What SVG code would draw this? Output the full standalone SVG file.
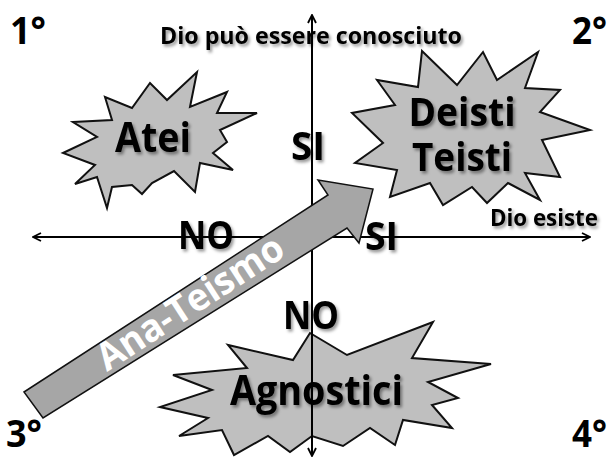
<svg xmlns="http://www.w3.org/2000/svg" width="611" height="459" viewBox="0 0 611 459">
<defs>
<style>
.star{fill:#bfbfbf;stroke:#111;stroke-width:2;stroke-linejoin:miter}
.axis{stroke:#000;stroke-width:2;fill:none}
.t{font-family:'Open Sans','Noto Sans','Liberation Sans',sans-serif;font-weight:bold;fill:#000}
.sh{filter:url(#shadow)}
.arrow{fill:#a6a6a6;stroke:#111;stroke-width:1.5;stroke-linejoin:miter}
</style>
<filter id="shadow" x="-20%" y="-30%" width="140%" height="170%">
<feDropShadow dx="2" dy="2.5" stdDeviation="1.6" flood-color="#000" flood-opacity="0.4"/>
</filter>
<marker id="ah" viewBox="0 0 10 10" refX="9" refY="5" markerWidth="10" markerHeight="10" markerUnits="userSpaceOnUse" orient="auto-start-reverse">
<path d="M1,1 L9,5 L1,9" fill="none" stroke="#000" stroke-width="1.8"/>
</marker>
</defs>
<rect width="611" height="459" fill="#fff"/>

<g id="atei">
<polygon class="star" points="73,122 112,120 105,97 132,108 150,83 167,100 197,72 190,107 227,92 217,113 257,113 220,130 227,142 213,153 233,170 200,163 195,192 174,171 152,183 142,194 132,185 112,187 107,208 97,177 75,184 95,165 63,153 97,137"/>
<text class="t sh" x="115" y="152" font-size="42" textLength="76" lengthAdjust="spacingAndGlyphs">Atei</text>
</g>

<g id="deisti-teisti">
<polygon class="star" points="422,51 457,85 483,52 497,80 538,52 525,88 560,90 540,112 590,130 542,140 560,177 525,173 540,200 508,183 487,203 472,187 443,205 430,183 390,197 397,170 355,163 383,143 352,113 395,105 377,80 418,87"/>
<text class="t sh" x="462" y="126" font-size="39" text-anchor="middle" textLength="107" lengthAdjust="spacingAndGlyphs">Deisti</text>
<text class="t sh" x="462" y="171" font-size="39" text-anchor="middle" textLength="100" lengthAdjust="spacingAndGlyphs">Teisti</text>
</g>

<g id="agnostici">
<polygon class="star" points="310,333 347,355 433,322 412,358 491,364 428,382 458,398 432,405 452,428 403,420 395,445 370,428 343,446 312,436 290,452 268,436 234,455 222,430 179,436 208,418 160,407 212,390 173,375 247,368 228,345 293,360"/>
</g>

<g id="axes">
<line class="axis" x1="33" y1="237" x2="590" y2="237" marker-start="url(#ah)" marker-end="url(#ah)"/>
<line class="axis" x1="312" y1="15" x2="312" y2="456" marker-start="url(#ah)" marker-end="url(#ah)"/>
</g>

<g id="labels">
<text class="t" x="10" y="44" font-size="38" textLength="36" lengthAdjust="spacingAndGlyphs">1°</text>
<text class="t" x="572" y="44" font-size="38" textLength="35" lengthAdjust="spacingAndGlyphs">2°</text>
<text class="t" x="6" y="447" font-size="38" textLength="36" lengthAdjust="spacingAndGlyphs">3°</text>
<text class="t" x="572" y="447" font-size="38" textLength="35" lengthAdjust="spacingAndGlyphs">4°</text>
<text class="t sh" x="311" y="44" font-size="24" text-anchor="middle" textLength="302" lengthAdjust="spacingAndGlyphs">Dio può essere conosciuto</text>
<text class="t sh" x="490" y="226" font-size="24" textLength="108" lengthAdjust="spacingAndGlyphs">Dio esiste</text>
<text class="t sh" x="308" y="160" font-size="40" text-anchor="middle" textLength="34" lengthAdjust="spacingAndGlyphs">SI</text>
<text class="t sh" x="365" y="250" font-size="40" textLength="33" lengthAdjust="spacingAndGlyphs">SI</text>
<text class="t sh" x="178" y="249" font-size="40" textLength="56" lengthAdjust="spacingAndGlyphs">NO</text>
<text class="t sh" x="283" y="329" font-size="40" textLength="56" lengthAdjust="spacingAndGlyphs">NO</text>
<text class="t sh" x="230" y="405" font-size="42" textLength="173" lengthAdjust="spacingAndGlyphs">Agnostici</text>
</g>

<g id="ana-teismo">
<polygon class="arrow" points="24,392 328,195 318,180 373,189 359,243 347,228 43,418"/>
<text class="t" transform="translate(107,372) rotate(-33)" font-size="38" style="fill:#fff" textLength="215" lengthAdjust="spacingAndGlyphs">Ana-Teismo</text>
</g>
</svg>
